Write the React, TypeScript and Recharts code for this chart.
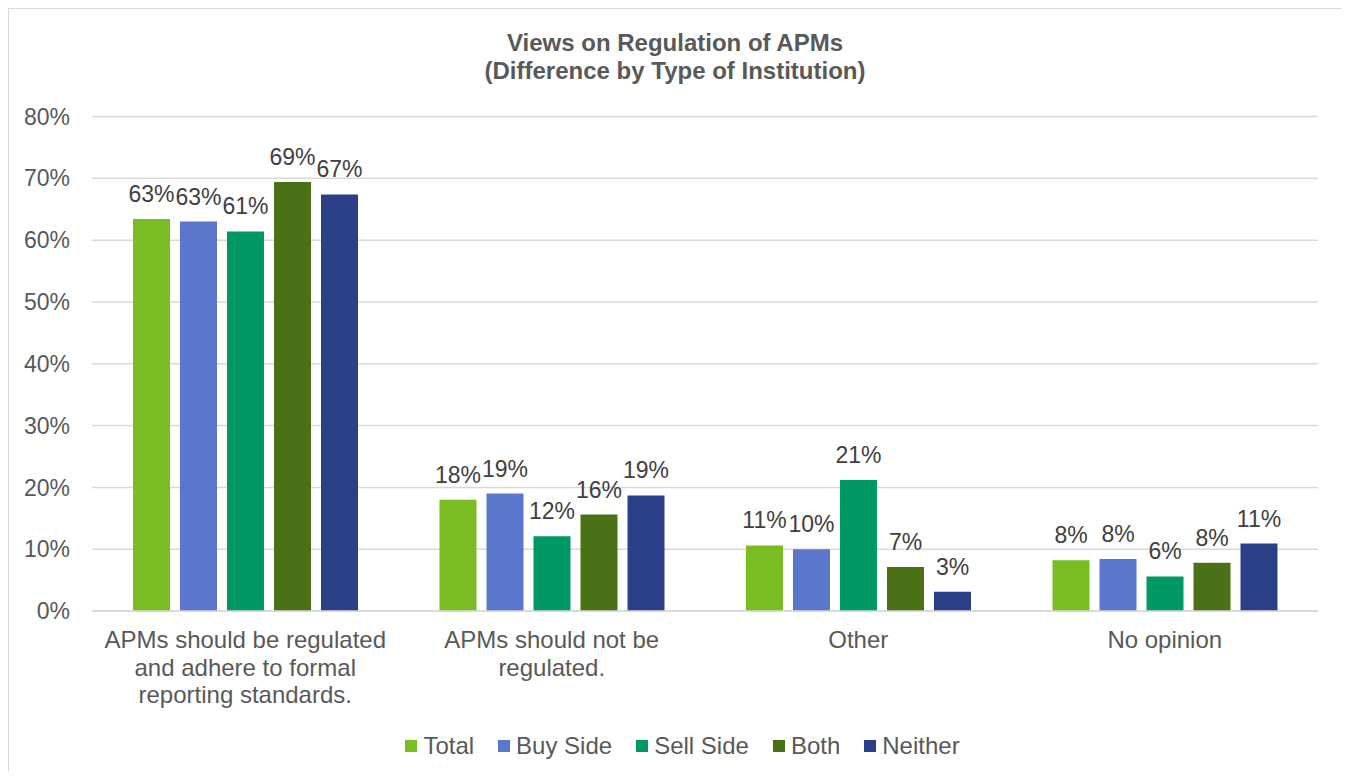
import React from 'react';
import {
  BarChart,
  Bar,
  XAxis,
  YAxis,
  CartesianGrid,
  Legend,
  LabelList,
} from 'recharts';

const categories = [
  'APMs should be regulated and adhere to formal reporting standards.',
  'APMs should not be regulated.',
  'Other',
  'No opinion',
];
const total = [63.4, 18.0, 10.6, 8.2];
const buySide = [63.0, 19.0, 10.0, 8.4];
const sellSide = [61.4, 12.1, 21.2, 5.6];
const both = [69.4, 15.6, 7.1, 7.8];
const neither = [67.4, 18.7, 3.1, 10.9];
const yTicks = [0, 10, 20, 30, 40, 50, 60, 70, 80];

const series = [
  { key: 'total', name: 'Total', color: '#7abd23', values: total },
  { key: 'buy', name: 'Buy Side', color: '#5b77cc', values: buySide },
  { key: 'sell', name: 'Sell Side', color: '#009864', values: sellSide },
  { key: 'both', name: 'Both', color: '#4a7115', values: both },
  { key: 'neither', name: 'Neither', color: '#2b4089', values: neither },
];

const data = categories.map((c, i) => {
  const row: Record<string, string | number> = { category: c };
  series.forEach(s => {
    row[s.key] = s.values[i];
  });
  return row;
});

const FONT = '"Liberation Sans", Arial, sans-serif';

// greedy word wrap, measured on a canvas
let ctx: CanvasRenderingContext2D | null = null;
const wrap = (text: string, maxWidth: number, font: string) => {
  if (!ctx) ctx = document.createElement('canvas').getContext('2d');
  if (!ctx) return [text];
  ctx.font = font;
  const lines: string[] = [];
  let line = '';
  text.split(' ').forEach(w => {
    const next = line ? `${line} ${w}` : w;
    if (line && ctx!.measureText(next).width > maxWidth) {
      lines.push(line);
      line = w;
    } else {
      line = next;
    }
  });
  if (line) lines.push(line);
  return lines;
};

const CategoryTick = ({ x, y, payload }: any) => {
  const lines = wrap(String(payload.value), 300, `24px ${FONT}`);
  return (
    <text
      x={x}
      y={y + 37}
      textAnchor="middle"
      fill="#595959"
      style={{ fontSize: 24, fontFamily: FONT }}
    >
      {lines.map((l, i) => (
        <tspan key={i} x={x} dy={i === 0 ? 0 : 27.5}>
          {l}
        </tspan>
      ))}
    </text>
  );
};

const LegendContent = () => (
  <div
    style={{
      height: 30,
      display: 'flex',
      justifyContent: 'center',
      alignItems: 'center',
      fontFamily: FONT,
      fontSize: 24,
      color: '#595959',
      paddingLeft: 62,
    }}
  >
    {series.map(s => (
      <div key={s.key} style={{ display: 'flex', alignItems: 'center', marginRight: 24 }}>
        <span style={{ width: 12, height: 12, background: s.color, marginRight: 6 }} />
        <span>{s.name}</span>
      </div>
    ))}
  </div>
);

export default function App() {
  return (
    <div
      style={{
        position: 'relative',
        width: 1332,
        height: 763,
        border: '1px solid #d9d9d9',
        borderBottom: 'none',
        background: '#fff',
        fontFamily: FONT,
      }}
    >
      <div
        style={{
          position: 'absolute',
          top: 20,
          left: 0,
          width: '100%',
          textAlign: 'center',
          fontSize: 24,
          lineHeight: '28px',
          fontWeight: 'bold',
          color: '#595959',
        }}
      >
        <div>Views on Regulation of APMs</div>
        <div>(Difference by Type of Institution)</div>
      </div>
      <BarChart
        width={1332}
        height={762}
        data={data}
        barSize={37}
        barGap={10}
        margin={{ top: 107.5, right: 23, bottom: 10, left: 0 }}
      >
        <CartesianGrid vertical={false} stroke="#d9d9d9" strokeWidth={1.5} />
        <XAxis
          dataKey="category"
          interval={0}
          height={120}
          tickLine={false}
          tickSize={0}
          tickMargin={0}
          axisLine={{ stroke: '#d9d9d9', strokeWidth: 1.5 }}
          tick={<CategoryTick />}
        />
        <YAxis
          domain={[0, 80]}
          ticks={yTicks}
          width={83}
          axisLine={false}
          tickLine={false}
          tickSize={0}
          tickMargin={22}
          tickFormatter={v => `${v}%`}
          tick={{ fill: '#595959', fontSize: 23, fontFamily: FONT }}
        />
        <Legend verticalAlign="bottom" height={30} content={<LegendContent />} />
        {series.map(s => (
          <Bar key={s.key} dataKey={s.key} name={s.name} fill={s.color} isAnimationActive={false}>
            <LabelList
              dataKey={s.key}
              position="top"
              offset={17}
              formatter={(v: any) => `${Math.round(Number(v))}%`}
              style={{ fill: '#404040', fontSize: 23, fontFamily: FONT }}
            />
          </Bar>
        ))}
      </BarChart>
    </div>
  );
}
